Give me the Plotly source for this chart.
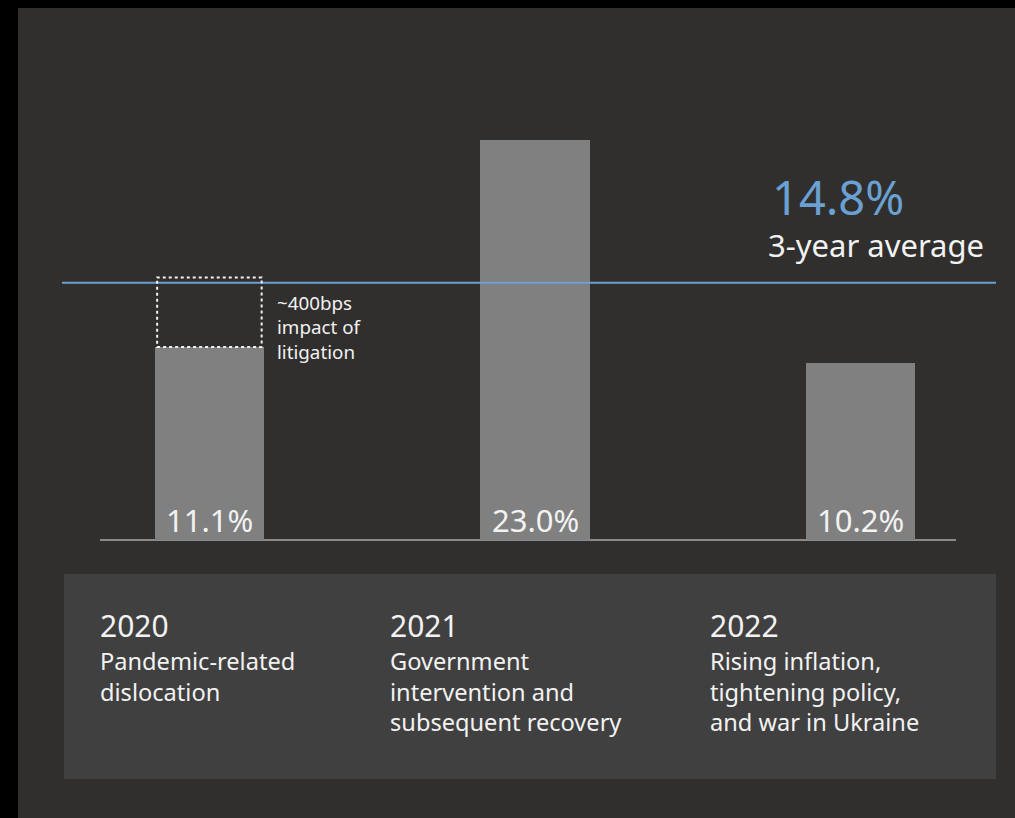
import plotly.graph_objects as go

# ---- data ----
years = ["2020", "2021", "2022"]
returns = [11.1, 23.0, 10.2]
average = 14.8
litigation_bps = 400
descriptions = [
    ["Pandemic-related", "dislocation"],
    ["Government", "intervention and", "subsequent recovery"],
    ["Rising inflation,", "tightening policy,", "and war in Ukraine"],
]
avg_label = "3-year average"
litigation_label = ["~400bps", "impact of", "litigation"]

# ---- layout constants (pixels) ----
W, H = 1015, 818
L, R, T, B = 100, 59, 8, 278
PW, PH = W - L - R, H - T - B

def px(x):
    return (x - L) / PW

def py(y):
    return (H - B - y) / PH

BG = "#302f2d"
PANEL = "#404040"
BAR = "#808080"
BLUE = "#6aa0d2"
TXT = "#f2f2f2"
FONT = "Noto Sans"

bar_w = 0.335
fig = go.Figure()
fig.add_trace(go.Bar(
    x=list(range(len(years))), y=returns, width=bar_w,
    marker=dict(color=BAR, line=dict(width=0)),
    hoverinfo="skip", showlegend=False,
))

shapes = [
    dict(type="rect", xref="paper", yref="paper", x0=px(18), x1=px(W + 5),
         y0=py(8), y1=py(H + 5), fillcolor=BG, line=dict(width=0), layer="below"),
    dict(type="rect", xref="paper", yref="paper", x0=px(64), x1=px(996),
         y0=py(574), y1=py(779), fillcolor=PANEL, line=dict(width=0), layer="below"),
    dict(type="line", xref="paper", yref="y", x0=px(62), x1=px(996),
         y0=average, y1=average, line=dict(color=BLUE, width=2)),
    dict(type="rect", xref="x", yref="y", x0=-bar_w / 2 + 0.007, x1=bar_w / 2 - 0.007,
         y0=returns[0], y1=returns[0] + litigation_bps / 100,
         line=dict(color=TXT, width=2, dash="dot"), fillcolor="rgba(0,0,0,0)"),
]

def text_ann(xpix, ypix, text, size, color=TXT):
    return dict(x=px(xpix), y=py(ypix), xref="paper", yref="paper", text=text,
                showarrow=False, xanchor="left", yanchor="middle", align="left",
                font=dict(size=size, color=color, family=FONT))

def block_ann(xpix, first_center, lines, size):
    n = len(lines)
    center = first_center + (n - 1) * 1.3 * size / 2
    return text_ann(xpix, center, "<br>".join(lines), size)

ann = []
for i, v in enumerate(returns):
    ann.append(dict(x=i, y=0, xref="x", yref="y", text=f"{v:.1f}%", showarrow=False,
                    yanchor="bottom", yshift=-3, font=dict(size=31, color=TXT, family=FONT)))

ann.append(text_ann(770, 197, f"{average:.1f}%", 47, BLUE))
ann.append(text_ann(766, 245, avg_label, 31))
ann.append(block_ann(275, 303, litigation_label, 18.8))

col_x = [98, 388, 708]
for i, (yr, lines) in enumerate(zip(years, descriptions)):
    ann.append(text_ann(col_x[i], 625, yr, 30))
    ann.append(block_ann(col_x[i], 661, lines, 23.6))

fig.update_layout(
    width=W, height=H,
    margin=dict(l=L, r=R, t=T, b=B),
    paper_bgcolor="#000000", plot_bgcolor="rgba(0,0,0,0)",
    shapes=shapes, annotations=ann,
    xaxis=dict(range=[-0.336, 2.293], showgrid=False, zeroline=False, showticklabels=False,
               showline=False, fixedrange=True),
    yaxis=dict(range=[0, PH / 17.39], showgrid=False, zeroline=True, zerolinecolor="#8a8a8a",
               zerolinewidth=2, showticklabels=False, fixedrange=True),
    bargap=0, showlegend=False,
)

fig.write_html(
    "out.html",
    config={"displayModeBar": False},
    post_script="document.body.style.margin='0';document.body.style.overflow='hidden';"
                "document.documentElement.style.overflow='hidden';",
)
